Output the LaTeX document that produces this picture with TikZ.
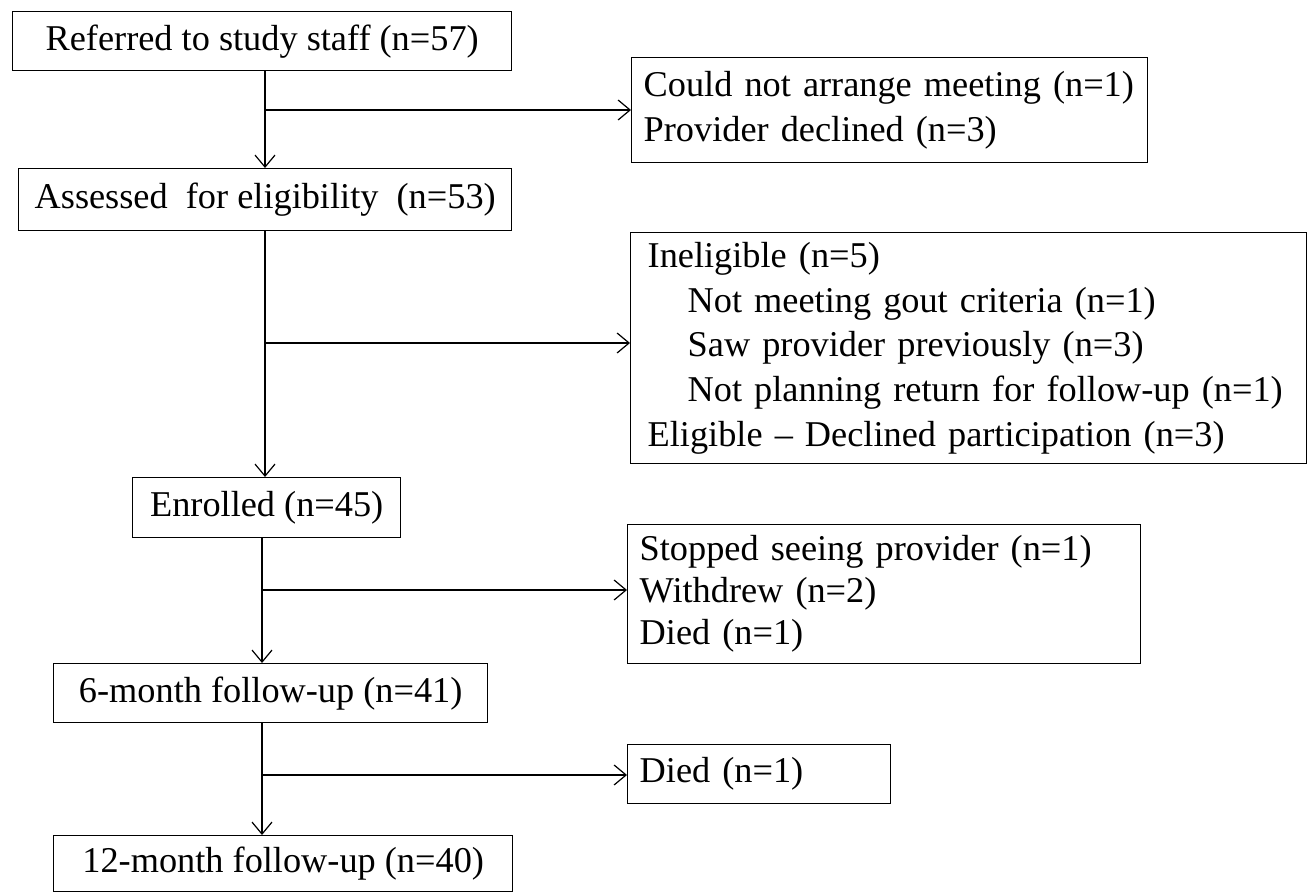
\documentclass[tikz,border=0pt]{standalone}
\usepackage{fontspec}
\setmainfont{Liberation Serif}
\usetikzlibrary{arrows.meta}
\begin{document}
\begin{tikzpicture}[x=1pt,y=-1pt,
  box/.style={draw=black,line width=1.4pt,anchor=north west,inner sep=0pt,
    font=\fontsize{36.3}{44.8}\selectfont},
  sidebox/.style={box,align=left,inner xsep=12pt},
  arr/.style={line width=1.3pt,-{Straight Barb[length=12pt,width=20pt,line width=1.2pt]}}]
\useasboundingbox (0,0) rectangle (1315,893);
\fill[white] (0,0) rectangle (1315,893);
% main column
\node[box,minimum width=499pt,minimum height=59pt] (b1) at (12,11) {Referred to study staff (n=57)};
\node[box,minimum width=493pt,minimum height=62pt] (b2) at (18,168) {Assessed\ \ for eligibility\ \ (n=53)};
\node[box,minimum width=268pt,minimum height=60pt] (b3) at (132,477) {Enrolled (n=45)};
\node[box,minimum width=434pt,minimum height=59pt] (b4) at (53,663) {6-month follow-up (n=41)};
\node[box,minimum width=459pt,minimum height=56pt] (b5) at (53,835) {12-month follow-up (n=40)};
% side boxes
\node[sidebox,text width=492pt,minimum height=105pt] (s1) at (631,57) {\mbox{Could not arrange meeting (n=1)}\\\mbox{Provider declined (n=3)}};
\node[sidebox,inner xsep=17pt,text width=642pt,minimum height=231pt] (s2) at (630,232) {\mbox{Ineligible (n=5)}\\\mbox{\hspace*{40pt}Not meeting gout criteria (n=1)}\\\mbox{\hspace*{40pt}Saw provider previously (n=3)}\\\mbox{\hspace*{40pt}Not planning return for follow-up (n=1)}\\\mbox{Eligible -- Declined participation (n=3)}};
\node[sidebox,text width=489pt,minimum height=139pt,font=\fontsize{36.3}{42}\selectfont] (s3) at (627,524) {\mbox{Stopped seeing provider (n=1)}\\\mbox{Withdrew (n=2)}\\\mbox{Died (n=1)}};
\node[sidebox,text width=239pt,minimum height=59pt] (s4) at (627,744) {\mbox{Died (n=1)}};
% junctions
\coordinate (j1) at (265,110);
\coordinate (j2) at (265,343);
\coordinate (j3) at (262,590);
\coordinate (j4) at (262,775);
% connectors
\draw[arr] (b1.south -| j1) -- (b2.north -| j1);
\draw[arr] (j1) -- (s1.west |- j1);
\draw[arr] (b2.south -| j2) -- (b3.north -| j2);
\draw[arr] (j2) -- (s2.west |- j2);
\draw[arr] (b3.south -| j3) -- (b4.north -| j3);
\draw[arr] (j3) -- (s3.west |- j3);
\draw[arr] (b4.south -| j4) -- (b5.north -| j4);
\draw[arr] (j4) -- (s4.west |- j4);
\end{tikzpicture}
\end{document}
